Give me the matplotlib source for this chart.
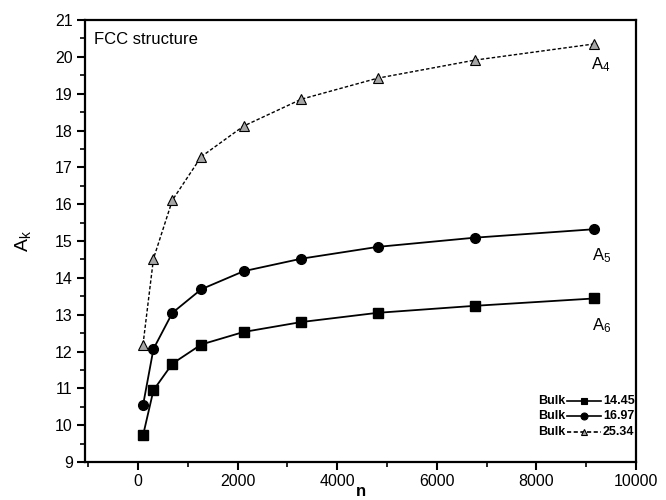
import matplotlib
matplotlib.use("Agg")
import matplotlib.pyplot as plt
from matplotlib.ticker import MultipleLocator
from matplotlib.lines import Line2D

plt.rcParams['font.family'] = ['Liberation Sans', 'DejaVu Sans']

# cluster size n and the A_k values
n = [100, 310, 690, 1270, 2120, 3280, 4810, 6760, 9160]
A4 = [12.19, 14.52, 16.11, 17.29, 18.12, 18.85, 19.42, 19.91, 20.35]
A5 = [10.54, 12.07, 13.05, 13.69, 14.18, 14.52, 14.84, 15.09, 15.32]
A6 = [9.72, 10.95, 11.67, 12.19, 12.53, 12.80, 13.05, 13.24, 13.44]
bulk_labels = ["14.45", "16.97", "25.34"]

fig = plt.figure(figsize=(6.66, 5.0), dpi=100)
ax = fig.add_axes([0.128, 0.076, 0.827, 0.884])

ax.plot(n, A6, color='black', lw=1.3, marker='s', ms=6.5, mfc='black', mec='black')
ax.plot(n, A5, color='black', lw=1.3, marker='o', ms=7, mfc='black', mec='black')
ax.plot(n, A4, color='black', lw=1.0, ls=(0, (2.5, 1.5)), marker='^', ms=7,
        mfc='0.65', mec='black', mew=0.8)

ax.set_xlim(-1060, 10000)
ax.set_ylim(9, 21)
ax.xaxis.set_major_locator(MultipleLocator(2000))
ax.xaxis.set_minor_locator(MultipleLocator(1000))
ax.yaxis.set_major_locator(MultipleLocator(1))
ax.yaxis.set_minor_locator(MultipleLocator(0.5))
ax.tick_params(which='major', direction='out', length=6, width=1.5, labelsize=11.5, pad=3)
ax.tick_params(which='minor', direction='out', length=3.5, width=1.2)
ax.tick_params(top=False, right=False)
for s in ax.spines.values():
    s.set_linewidth(1.6)

ax.set_xlabel("n", fontsize=12, fontweight='bold', labelpad=-4)
ax.set_ylabel(r"$\mathregular{A_k}$", fontsize=14, labelpad=16)

ax.text(0.015, 0.955, "FCC structure", transform=ax.transAxes, fontsize=12,
        ha='left', va='center')

# curve labels
ax.text(9300, 19.78, r"$\mathregular{A_4}$", fontsize=12, ha='center', va='center')
ax.text(9300, 14.61, r"$\mathregular{A_5}$", fontsize=12, ha='center', va='center')
ax.text(9300, 12.71, r"$\mathregular{A_6}$", fontsize=12, ha='center', va='center')

# legend drawn as "Bulk —marker— value"
rows = [('s', '-', 'black'), ('o', '-', 'black'), ('^', (0, (2.5, 1.5)), '0.65')]
ys = [0.138, 0.104, 0.068]
for (mk, ls, fc), y, lab in zip(rows, ys, bulk_labels):
    ax.text(0.871, y, "Bulk", transform=ax.transAxes, fontsize=9, fontweight='bold',
            ha='right', va='center')
    ax.add_line(Line2D([0.874, 0.936], [y, y], transform=ax.transAxes, color='black',
                       lw=1.2, ls=ls))
    ax.add_line(Line2D([0.905], [y], transform=ax.transAxes, marker=mk, ms=5,
                       mfc=fc, mec='black', mew=0.8))
    ax.text(0.94, y, lab, transform=ax.transAxes, fontsize=9, fontweight='bold',
            ha='left', va='center')

fig.savefig("out.png", dpi=100)
